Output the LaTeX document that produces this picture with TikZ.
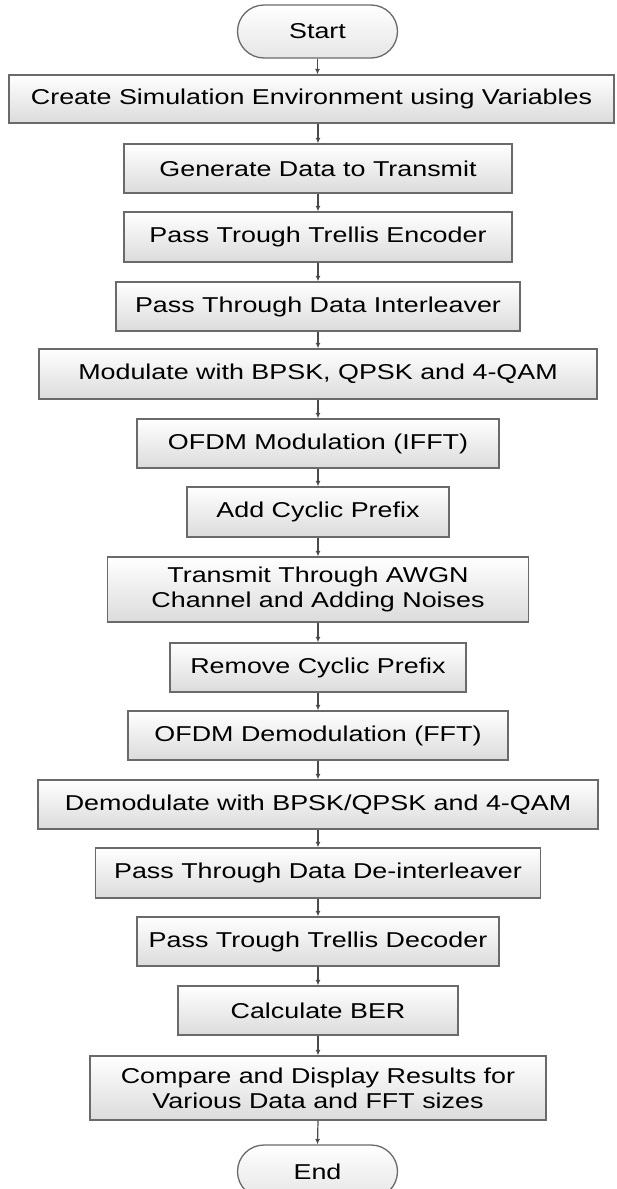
\documentclass[tikz,border=0pt]{standalone}
\usepackage{fontspec}
\setmainfont{Liberation Sans}[FakeStretch=1.25]
\usetikzlibrary{arrows.meta,shapes.misc}
\definecolor{edgegray}{HTML}{6A6A6A}
\definecolor{arrgray}{HTML}{4A4A4A}
\begin{document}
\begin{tikzpicture}[x=1pt,y=-1pt,
  stepbox/.style={rectangle, draw=edgegray, line width=1.3pt, top color=white, bottom color=black!14,
    inner sep=0pt, align=center, font=\fontsize{21.5}{25}\selectfont},
  term/.style={rounded rectangle, draw=edgegray, line width=1.3pt, top color=white, bottom color=black!10,
    inner sep=0pt, minimum width=160pt, minimum height=53pt, font=\fontsize{21.5}{25}\selectfont},
  arr/.style={draw=arrgray, line width=1.2pt, -{Latex[length=5.5pt,width=5pt]}}]
\useasboundingbox (0,0) rectangle (617,1189);
\node[term] (start) at (317.5,31.5) {Start};
\node[stepbox, minimum width=605pt, minimum height=48pt] (b1) at (311.5,99) {Create Simulation Environment using Variables};
\node[stepbox, minimum width=388pt, minimum height=49pt] (b2) at (318,168.5) {Generate Data to Transmit};
\node[stepbox, minimum width=388pt, minimum height=50pt] (b3) at (318,237) {Pass Trough Trellis Encoder};
\node[stepbox, minimum width=404pt, minimum height=49pt] (b4) at (318,306.5) {Pass Through Data Interleaver};
\node[stepbox, minimum width=558pt, minimum height=50pt] (b5) at (318,374) {Modulate with BPSK, QPSK and 4-QAM};
\node[stepbox, minimum width=362pt, minimum height=49pt] (b6) at (318,443.5) {OFDM Modulation (IFFT)};
\node[stepbox, minimum width=262pt, minimum height=50pt] (b7) at (318,512) {Add Cyclic Prefix};
\node[stepbox, minimum width=421pt, minimum height=65pt] (b8) at (318,589.5) {Transmit Through AWGN\\Channel and Adding Noises};
\node[stepbox, minimum width=296pt, minimum height=49pt] (b9) at (318,667.5) {Remove Cyclic Prefix};
\node[stepbox, minimum width=380pt, minimum height=49pt] (b10) at (318,735.5) {OFDM Demodulation (FFT)};
\node[stepbox, minimum width=560pt, minimum height=49pt] (b11) at (318,804.5) {Demodulate with BPSK/QPSK and 4-QAM};
\node[stepbox, minimum width=445pt, minimum height=50pt] (b12) at (318,873) {Pass Through Data De-interleaver};
\node[stepbox, minimum width=362pt, minimum height=49pt] (b13) at (318,941.5) {Pass Trough Trellis Decoder};
\node[stepbox, minimum width=280pt, minimum height=49pt] (b14) at (318,1010.5) {Calculate BER};
\node[stepbox, minimum width=456pt, minimum height=64pt] (b15) at (318,1088) {Compare and Display Results for\\Various Data and FFT sizes};
\node[term] (end) at (317.5,1171.5) {End};
\draw[arr] (start.south) -- (start.south |- b1.north);
\draw[arr] (b1.south -| b2.north) -- (b2.north);
\draw[arr] (b2.south) -- (b3.north);
\draw[arr] (b3.south) -- (b4.north);
\draw[arr] (b4.south) -- (b5.north);
\draw[arr] (b5.south) -- (b6.north);
\draw[arr] (b6.south) -- (b7.north);
\draw[arr] (b7.south) -- (b8.north);
\draw[arr] (b8.south) -- (b9.north);
\draw[arr] (b9.south) -- (b10.north);
\draw[arr] (b10.south) -- (b11.north);
\draw[arr] (b11.south) -- (b12.north);
\draw[arr] (b12.south) -- (b13.north);
\draw[arr] (b13.south) -- (b14.north);
\draw[arr] (b14.south) -- (b15.north);
\draw[arr] (b15.south) -- (end.north);
\end{tikzpicture}
\end{document}
